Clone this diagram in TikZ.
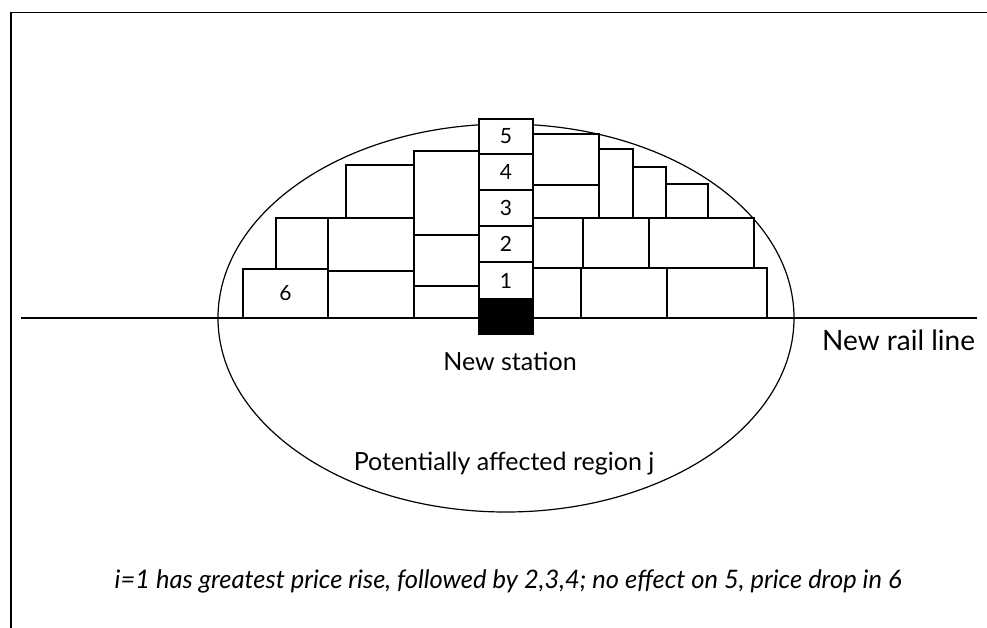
\documentclass[tikz,border=0pt]{standalone}
\usepackage{fontspec}
\setmainfont{Lato}
\begin{document}
\begin{tikzpicture}[x=1pt,y=-1pt,
  blk/.style={draw=black, fill=white, line width=1.2pt},
  lbl/.style={font=\fontsize{25}{28}\selectfont, inner sep=0pt},
  num/.style={font=\fontsize{21}{24}\selectfont, inner sep=0pt},
  captxt/.style={font=\fontsize{25.5}{28}\selectfont\itshape, inner sep=0pt}]
\useasboundingbox (0,0) rectangle (987,628);
% frame
\draw[line width=1.5pt] (11,628) -- (11,12.5) -- (987,12.5);
% region ellipse
\draw[line width=1.2pt] (506,318) ellipse [x radius=288, y radius=194];
% rail line
\coordinate (railA) at (21,318);
\coordinate (railB) at (977,318);
\draw[line width=1.3pt] (railA) -- (railB);
% left blocks
\draw[blk] (243,269) rectangle (328,318);
\draw[blk] (276,218) rectangle (328,269);
\draw[blk] (328,271) rectangle (414,318);
\draw[blk] (328,218) rectangle (414,271);
\draw[blk] (346,165) rectangle (414,218);
\draw[blk] (414,151) rectangle (479,235);
\draw[blk] (414,235) rectangle (479,286);
\draw[blk] (414,286) rectangle (479,318);
% right blocks
\draw[blk] (533,134) rectangle (599,185);
\draw[blk] (533,185) rectangle (599,218);
\draw[blk] (599,149) rectangle (633,218);
\draw[blk] (633,167) rectangle (666,218);
\draw[blk] (666,184) rectangle (708,218);
\draw[blk] (533,218) rectangle (583,268);
\draw[blk] (583,218) rectangle (649,268);
\draw[blk] (649,218) rectangle (754,268);
\draw[blk] (533,268) rectangle (581,318);
\draw[blk] (581,268) rectangle (667,318);
\draw[blk] (667,268) rectangle (767,318);
% station column
\draw[blk] (479,119) rectangle (533,154);
\draw[blk] (479,154) rectangle (533,190);
\draw[blk] (479,190) rectangle (533,226);
\draw[blk] (479,226) rectangle (533,262);
\draw[blk] (479,262) rectangle (533,299);
\draw[blk, fill=black] (479,299) rectangle (533,334);
% labels
\node[num] (n5) at (506,136.5) {5};
\node[num] (n4) at (506,172) {4};
\node[num] (n3) at (506,208) {3};
\node[num] (n2) at (506,244) {2};
\node[num] (n1) at (506,280.5) {1};
\node[num] (n6) at (285.5,293.5) {6};
\node[lbl, anchor=base] (station) at (510,370) {New station};
\node[lbl, anchor=base west, font=\fontsize{28}{30}\selectfont] (rail) at (822,350) {New rail line};
\node[lbl, anchor=base] (region) at (504,470) {Potentially affected region j};
\node[captxt, anchor=base] (caption) at (508,588) {i=1 has greatest price rise, followed by 2,3,4; no effect on 5, price drop in 6};
\end{tikzpicture}
\end{document}
